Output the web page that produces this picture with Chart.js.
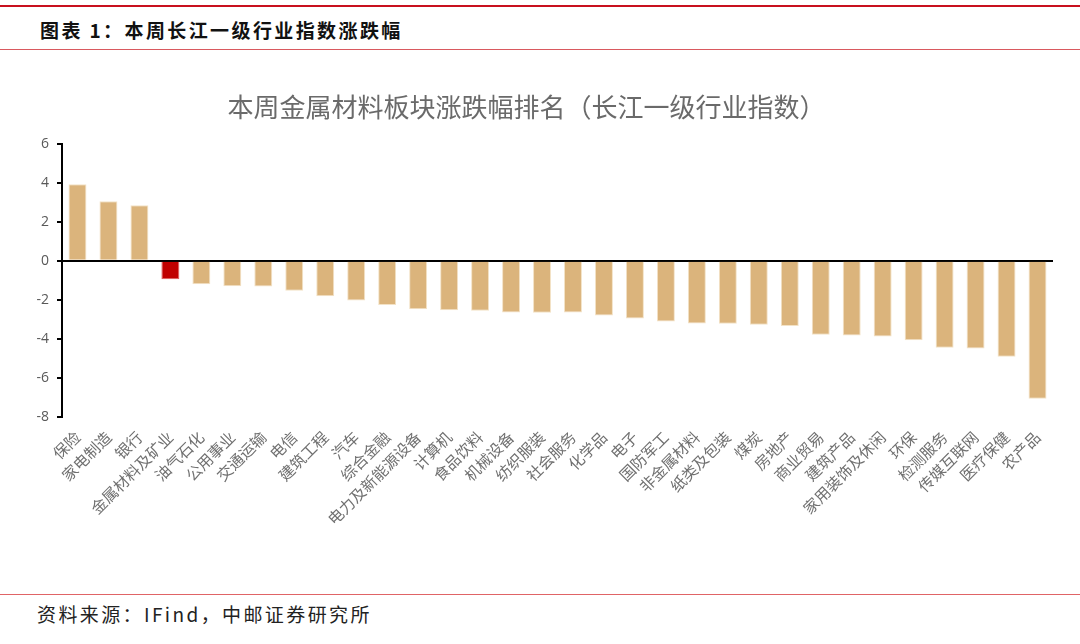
<!DOCTYPE html>
<html>
<head>
<meta charset="utf-8">
<script src="https://cdn.jsdelivr.net/npm/chart.js@4.4.1/dist/chart.umd.min.js"></script>
<style>
  html, body { margin: 0; padding: 0; background: #fff; }
  body { width: 1080px; height: 644px; position: relative; overflow: hidden; font-family: "Noto Sans CJK SC", sans-serif; }
  .topline { position: absolute; left: 0; top: 5px; width: 1080px; height: 2px; background: #c8101e; }
  .subline { position: absolute; left: 0; top: 49px; width: 1080px; height: 1px; background: #d9595f; }
  .footline { position: absolute; left: 0; top: 594px; width: 1080px; height: 1px; background: #e06466; }
  .head { position: absolute; left: 40px; top: 17px; font-size: 19px; font-weight: bold; color: #111; letter-spacing: 2.4px; line-height: 26px; }
  .foot { position: absolute; left: 37px; top: 601px; font-size: 19px; color: #222; letter-spacing: 2.4px; line-height: 26px; }
  #wrap { position: absolute; left: 0; top: 80px; width: 1080px; height: 500px; }
</style>
</head>
<body>
<div class="topline"></div>
<div class="head">图表 1：本周长江一级行业指数涨跌幅</div>
<div class="subline"></div>
<div id="wrap"><canvas id="chart"></canvas></div>
<div class="footline"></div>
<div class="foot">资料来源：IFind，中邮证券研究所</div>

<script>
// 行业名称
const categories = [
  "保险", "家电制造", "银行", "金属材料及矿业", "油气石化", "公用事业", "交通运输", "电信",
  "建筑工程", "汽车", "综合金融", "电力及新能源设备", "计算机", "食品饮料", "机械设备", "纺织服装",
  "社会服务", "化学品", "电子", "国防军工", "非金属材料", "纸类及包装", "煤炭", "房地产",
  "商业贸易", "建筑产品", "家用装饰及休闲", "环保", "检测服务", "传媒互联网", "医疗保健", "农产品"
];

// 本周涨跌幅 (%)
const changes = [
  3.93, 3.06, 2.85, -0.94, -1.20, -1.30, -1.32, -1.54,
  -1.81, -2.03, -2.27, -2.48, -2.53, -2.56, -2.65, -2.66,
  -2.65, -2.80, -2.96, -3.11, -3.21, -3.23, -3.28, -3.35,
  -3.79, -3.83, -3.88, -4.07, -4.46, -4.50, -4.92, -7.08
];

const highlight = "金属材料及矿业";
const yTicks = [6, 4, 2, 0, -2, -4, -6, -8];

const barColors = categories.map(c => c === highlight ? '#c00000' : '#dbb47c');
const borderColors = categories.map(c => c === highlight ? '#e05a5a' : '#f3e2c6');

new Chart(document.getElementById('chart').getContext('2d'), {
  type: 'bar',
  data: {
    labels: categories,
    datasets: [{
      data: changes,
      backgroundColor: barColors,
      borderColor: borderColors,
      borderWidth: 1,
      categoryPercentage: 1,
      barPercentage: 0.58
    }]
  },
  options: {
    responsive: true,
    maintainAspectRatio: false,
    animation: false,
    layout: { padding: { left: 0, right: 27, top: 0, bottom: 0 } },
    plugins: {
      legend: { display: false },
      tooltip: { enabled: false },
      title: {
        display: true,
        text: '本周金属材料板块涨跌幅排名（长江一级行业指数）',
        color: '#6a6a6a',
        font: { family: 'Noto Sans CJK SC', size: 26, weight: 'normal', lineHeight: 1.2 },
        padding: { top: 12, bottom: 20.8 }
      }
    },
    scales: {
      x: {
        grid: { display: false },
        border: { display: false },
        ticks: {
          autoSkip: false,
          maxRotation: 45,
          minRotation: 45,
          color: '#707070',
          padding: 3,
          font: { family: 'Noto Sans CJK SC', size: 15.5 }
        },
        afterFit: (scale) => { scale.height = 163.3; }
      },
      y: {
        min: -8,
        max: 6,
        afterBuildTicks: (scale) => { scale.ticks = yTicks.map(v => ({ value: v })); },
        afterFit: (scale) => { scale.width = 62; },
        border: { display: true, color: '#000', width: 2 },
        grid: {
          drawOnChartArea: true,
          color: (ctx) => ctx.tick && ctx.tick.value === 0 ? '#000' : 'rgba(0,0,0,0)',
          lineWidth: 2,
          drawTicks: true,
          tickLength: 5,
          tickColor: '#000',
          tickWidth: 2
        },
        ticks: {
          color: '#595959',
          padding: 8,
          font: { family: 'Open Sans', size: 14 }
        }
      }
    }
  }
});
</script>
</body>
</html>
